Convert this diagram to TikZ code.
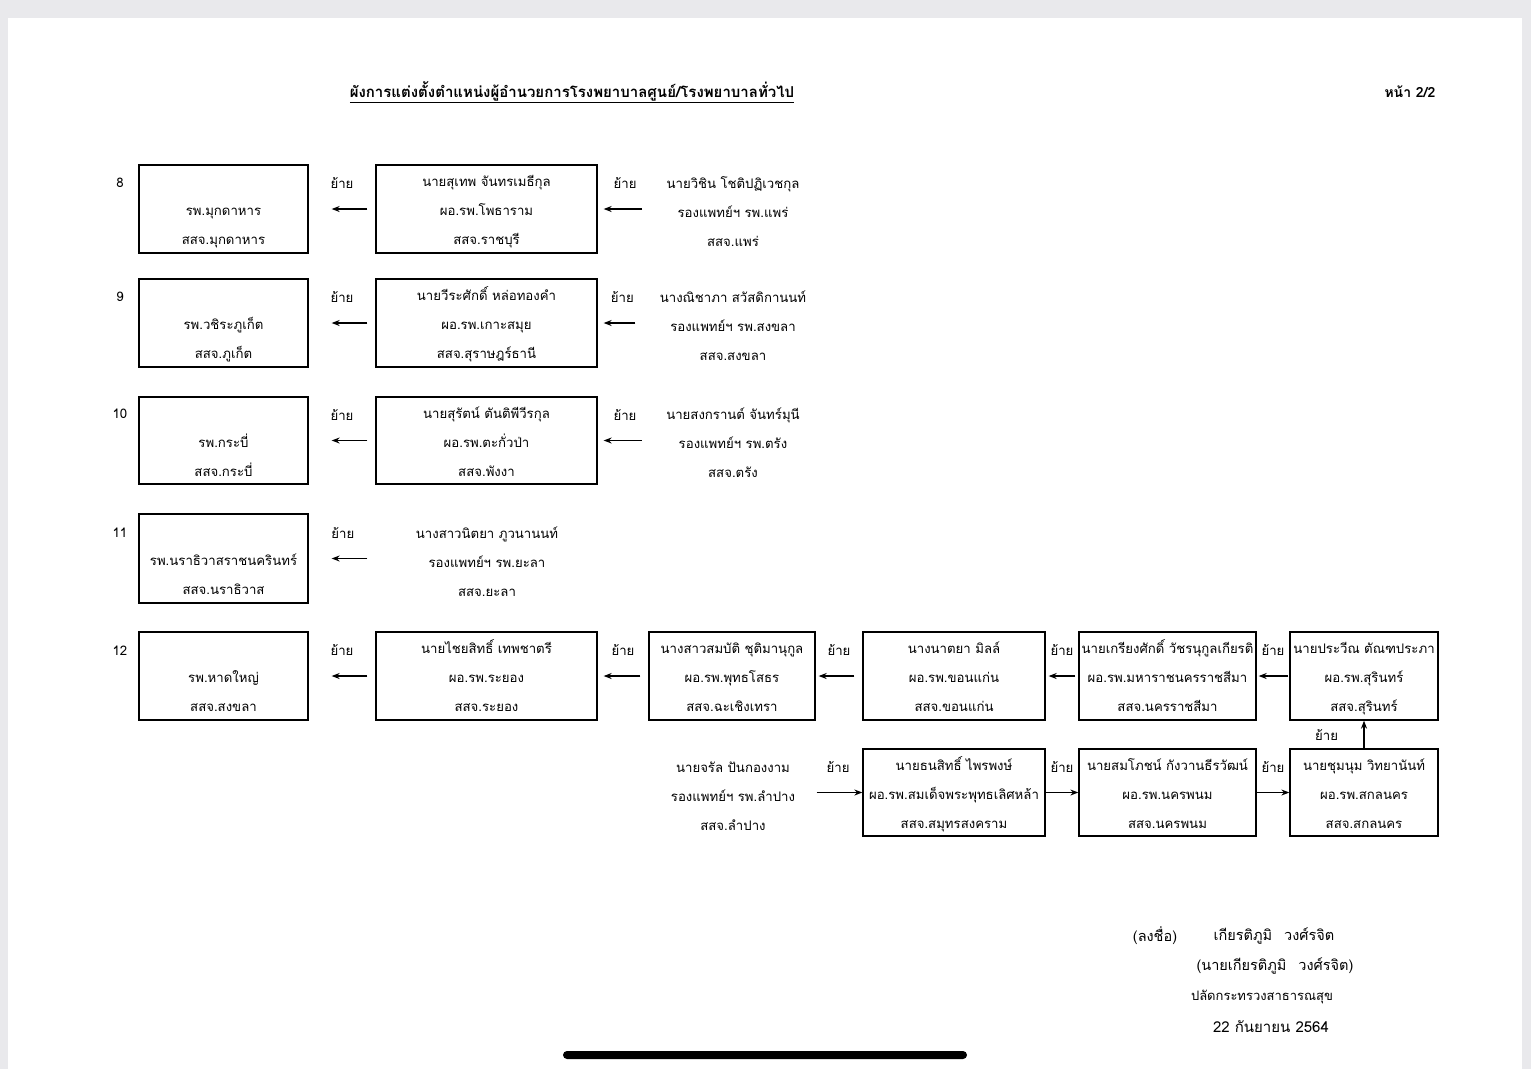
\documentclass[tikz,border=0pt]{standalone}
\usepackage{fontspec}
\setmainfont{Loma}[Script=Thai]
\usetikzlibrary{arrows.meta,positioning}
\definecolor{screengray}{HTML}{E9E9EC}
% three lines in a box, with fixed top and bottom room
\newcommand{\boxtext}[3]{\rule{0pt}{17pt}#1\\#2\\#3\rule[-4pt]{0pt}{4pt}}

\begin{document}
\begin{tikzpicture}[
    x=1pt, y=-1pt,
    font=\fontsize{13.2}{29}\selectfont,
    box/.style={draw, line width=1.3pt, minimum height=88pt, align=center, inner sep=0pt},
    info/.style={align=center},
    arrow/.style={-{Stealth[length=8pt,width=6pt]}, line width=1.2pt},
    move/.style={midway, yshift=26pt}
]
\useasboundingbox (0,0) rectangle (1531,1069);
\fill[screengray] (0,0) rectangle (1531,1069);
\fill[white] (8,18) rectangle (1522,1069);

% Heading
\node[font=\bfseries\fontsize{15}{18}\selectfont] (title) at (572,92) {\underline{ผังการแต่งตั้งตำแหน่งผู้อำนวยการโรงพยาบาลศูนย์/โรงพยาบาลทั่วไป}};
\node[font=\bfseries\fontsize{14}{18}\selectfont] (page) at (1410,92) {หน้า 2/2};

% Row 8
\node (n8) at (120,183) {8};
\node[box, minimum width=169pt] (r8a) at (223.5,209) {\boxtext{}{รพ.มุกดาหาร}{สสจ.มุกดาหาร}};
\node[box, minimum width=221pt] (r8b) at (486.5,209) {\boxtext{นายสุเทพ จันทรเมธีกุล}{ผอ.รพ.โพธาราม}{สสจ.ราชบุรี}};
\node[info] (r8c) at (733,212) {นายวิชิน โชติปฏิเวชกุล\\รองแพทย์ฯ รพ.แพร่\\สสจ.แพร่};

\draw[arrow, shorten <=8pt, shorten >=23pt] (r8b.west) -- node[move]{ย้าย} (r8a.east);
\draw[arrow, shorten <=21pt, shorten >=6pt] (r8c.west |- r8b.east) -- node[move, pos=0.58]{ย้าย} (r8b.east);

% Row 9
\node (n9) at (120,297) {9};
\node[box, minimum width=169pt] (r9a) at (223.5,323) {\boxtext{}{รพ.วชิระภูเก็ต}{สสจ.ภูเก็ต}};
\node[box, minimum width=221pt] (r9b) at (486.5,323) {\boxtext{นายวีระศักดิ์ หล่อทองคำ}{ผอ.รพ.เกาะสมุย}{สสจ.สุราษฎร์ธานี}};
\node[info] (r9c) at (733,326) {นางณิชาภา สวัสดิกานนท์\\รองแพทย์ฯ รพ.สงขลา\\สสจ.สงขลา};

\draw[arrow, shorten <=8pt, shorten >=23pt] (r9b.west) -- node[move]{ย้าย} (r9a.east);
\draw[arrow, shorten <=21pt, shorten >=6pt] (r9c.west |- r9b.east) -- node[move, pos=0.58]{ย้าย} (r9b.east);

% Row 10
\node (n10) at (120,414) {10};
\node[box, minimum width=169pt, minimum height=87pt] (r10a) at (223.5,440.5) {\boxtext{}{รพ.กระบี่}{สสจ.กระบี่}};
\node[box, minimum width=221pt, minimum height=87pt] (r10b) at (486.5,440.5) {\boxtext{นายสุรัตน์ ตันติพีวีรกุล}{ผอ.รพ.ตะกั่วป่า}{สสจ.พังงา}};
\node[info] (r10c) at (733,443) {นายสงกรานต์ จันทร์มุนี\\รองแพทย์ฯ รพ.ตรัง\\สสจ.ตรัง};

\draw[arrow, shorten <=8pt, shorten >=23pt] (r10b.west) -- node[move]{ย้าย} (r10a.east);
\draw[arrow, shorten <=21pt, shorten >=6pt] (r10c.west |- r10b.east) -- node[move, pos=0.58]{ย้าย} (r10b.east);

% Row 11
\node (n11) at (120,533) {11};
\node[box, minimum width=169pt, minimum height=89pt] (r11a) at (223.5,558.5) {\boxtext{}{รพ.นราธิวาสราชนครินทร์}{สสจ.นราธิวาส}};
\node[info] (r11c) at (487,562) {นางสาวนิตยา ภูวนานนท์\\รองแพทย์ฯ รพ.ยะลา\\สสจ.ยะลา};

\draw[arrow, shorten <=45pt, shorten >=23pt] (r11c.west |- r11a.east) -- node[move, pos=0.67]{ย้าย} (r11a.east);

% Row 12
\node (n12) at (120,651) {12};
\node[box, minimum width=169pt] (r12a) at (223.5,676) {\boxtext{}{รพ.หาดใหญ่}{สสจ.สงขลา}};
\node[box, minimum width=221pt] (r12b) at (486.5,676) {\boxtext{นายไชยสิทธิ์ เทพชาตรี}{ผอ.รพ.ระยอง}{สสจ.ระยอง}};
\node[box, minimum width=166pt] (r12c) at (732,676) {\boxtext{นางสาวสมบัติ ชุติมานุกูล}{ผอ.รพ.พุทธโสธร}{สสจ.ฉะเชิงเทรา}};
\node[box, minimum width=182pt] (r12d) at (954,676) {\boxtext{นางนาตยา มิลล์}{ผอ.รพ.ขอนแก่น}{สสจ.ขอนแก่น}};
\node[box, minimum width=177pt] (r12e) at (1167.5,676) {\boxtext{นายเกรียงศักดิ์ วัชรนุกูลเกียรติ}{ผอ.รพ.มหาราชนครราชสีมา}{สสจ.นครราชสีมา}};
\node[box, minimum width=148pt] (r12f) at (1364,676) {\boxtext{นายประวีณ ตัณฑประภา}{ผอ.รพ.สุรินทร์}{สสจ.สุรินทร์}};

\draw[arrow, shorten <=8pt, shorten >=23pt] (r12b.west) -- node[move]{ย้าย} (r12a.east);
\draw[arrow, shorten <=8pt, shorten >=6pt] (r12c.west) -- node[move]{ย้าย} (r12b.east);
\draw[arrow, shorten <=8pt, shorten >=3pt] (r12d.west) -- node[move]{ย้าย} (r12c.east);
\draw[arrow, shorten <=3pt, shorten >=3pt] (r12e.west) -- node[move]{ย้าย} (r12d.east);
\draw[arrow, shorten <=1pt, shorten >=2pt] (r12f.west) -- node[move]{ย้าย} (r12e.east);

% Chain below row 12
\node[info] (r13) at (733,796) {นายจรัล ปันกองงาม\\รองแพทย์ฯ รพ.ลำปาง\\สสจ.ลำปาง};
\node[box, minimum width=182pt, minimum height=87pt] (b1) at (954,792.5) {\boxtext{นายธนสิทธิ์ ไพรพงษ์}{ผอ.รพ.สมเด็จพระพุทธเลิศหล้า}{สสจ.สมุทรสงคราม}};
\node[box, minimum width=177pt, minimum height=87pt] (b2) at (1167.5,792.5) {\boxtext{นายสมโภชน์ กังวานธีรวัฒน์}{ผอ.รพ.นครพนม}{สสจ.นครพนม}};
\node[box, minimum width=148pt, minimum height=87pt] (b3) at (1364,792.5) {\boxtext{นายชุมนุม วิทยานันท์}{ผอ.รพ.สกลนคร}{สสจ.สกลนคร}};

\draw[arrow, shorten <=18pt] (r13.east |- b1.west) -- node[move, pos=0.62]{ย้าย} (b1.west);
\draw[arrow] (b1.east) -- node[move]{ย้าย} (b2.west);
\draw[arrow] (b2.east) -- node[move]{ย้าย} (b3.west);
\draw[arrow] (b3.north) -- node[midway, left=22pt]{ย้าย} (r12f.south);

% Signature
\node[font=\fontsize{14.5}{18}\selectfont] (sign) at (1155,936) {(ลงชื่อ)};
\node[font=\fontsize{14.5}{18}\selectfont] (signame) at (1274,936) {เกียรติภูมิ\hspace{12pt}วงศ์รจิต};
\node[font=\fontsize{14.5}{18}\selectfont] (fullname) at (1275,966) {(นายเกียรติภูมิ\hspace{12pt}วงศ์รจิต)};
\node[font=\fontsize{13}{18}\selectfont] (rank) at (1262,997) {ปลัดกระทรวงสาธารณสุข};
\node[font=\fontsize{15}{18}\selectfont] (date) at (1271,1027) {22 กันยายน 2564};

% Home bar
\fill[rounded corners=4pt] (563,1051) rectangle (967,1059);
\end{tikzpicture}
\end{document}
